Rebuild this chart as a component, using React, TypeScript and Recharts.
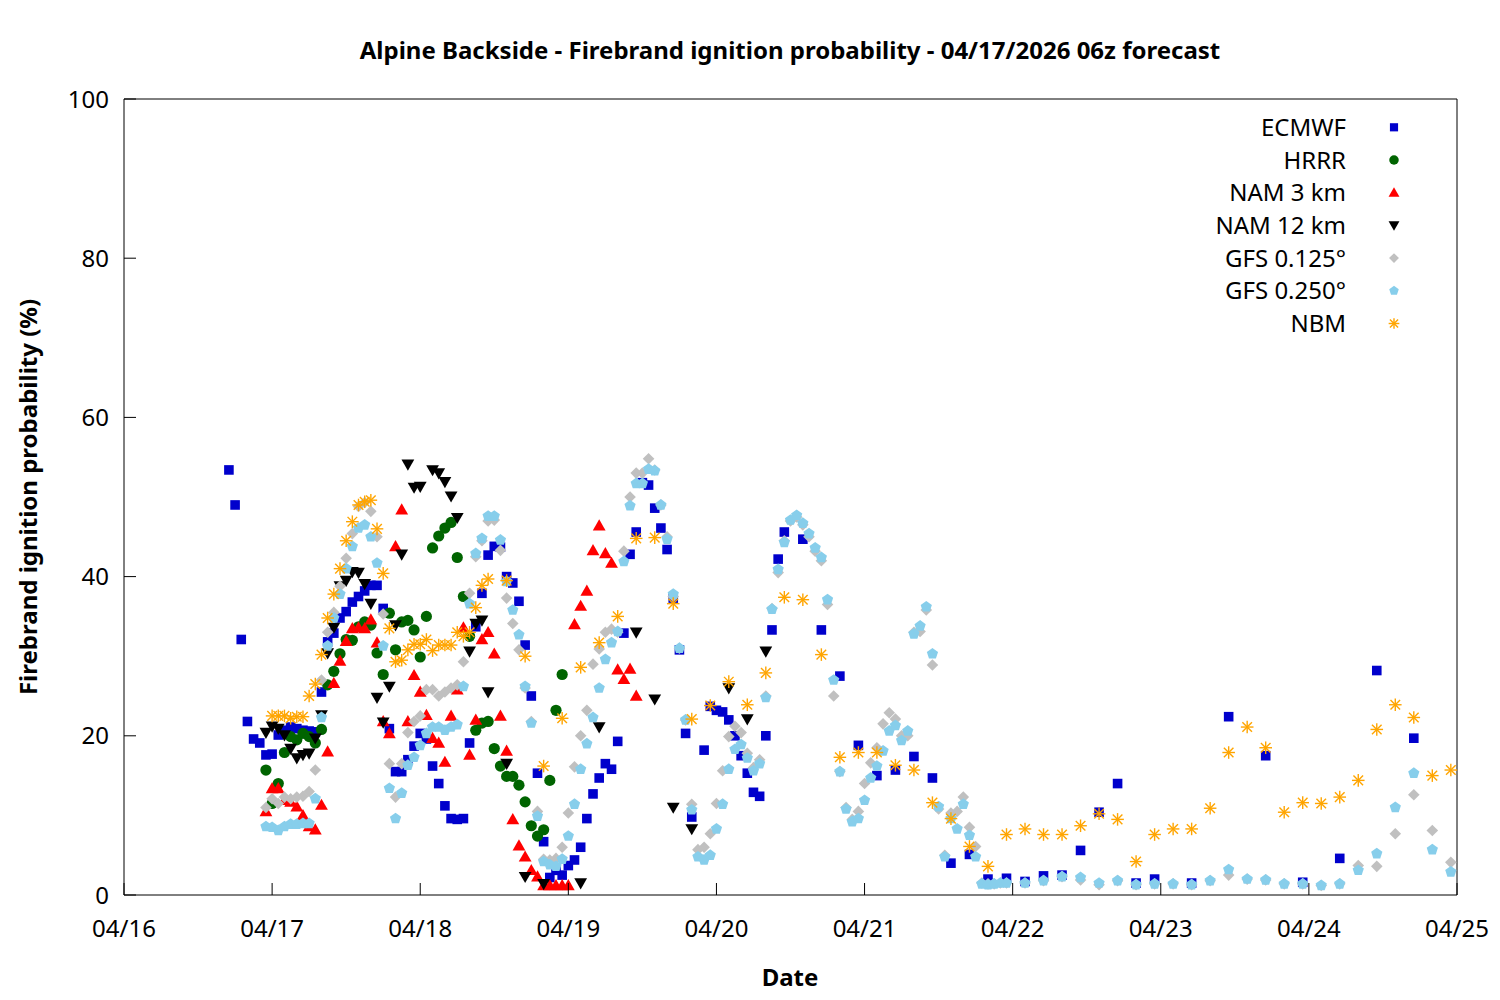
import React from 'react';
import { ScatterChart, Scatter, XAxis, YAxis } from 'recharts';

type P = [number, number];

// hours since 04/16 00:00 (local), probability in %
const dateLabels = ['04/16', '04/17', '04/18', '04/19', '04/20', '04/21', '04/22', '04/23', '04/24', '04/25'];
const xTicks = [0, 24, 48, 72, 96, 120, 144, 168, 192, 216];
const yTicks = [0, 20, 40, 60, 80, 100];

const ecmwf: P[] = [
  [17, 53.4], [18, 49.0], [19, 32.1], [20, 21.8], [21, 19.6], [22, 19.1], [23, 17.6], [24, 17.7], [25, 20.1], [26, 20.7],
  [27, 21.1], [28, 20.9], [29, 20.7], [30, 20.6], [31, 20.5], [32, 25.5], [33, 31.8], [34, 32.9], [35, 34.8], [36, 35.6],
  [37, 36.8], [38, 37.5], [39, 38.2], [40, 38.9], [41, 38.9], [42, 36.0], [43, 20.9], [44, 15.5], [45, 15.5], [46, 17.0],
  [47, 18.7], [48, 20.3], [49, 19.6], [50, 16.2], [51, 14.0], [52, 11.2], [53, 9.6], [54, 9.5], [55, 9.6], [56, 19.1],
  [57, 33.7], [58, 37.9], [59, 42.7], [60, 43.8], [61, 43.7], [62, 40.0], [63, 39.2], [64, 36.9], [65, 31.4], [66, 25.0],
  [67, 15.3], [68, 6.7], [69, 2.2], [70, 3.1], [71, 2.5], [72, 3.7], [73, 4.4], [74, 6.0], [75, 9.6], [76, 12.7],
  [77, 14.7], [78, 16.5], [79, 15.8], [80, 19.3], [81, 32.9], [82, 42.8], [83, 45.6], [84, 51.8], [85, 51.5], [86, 48.6],
  [87, 46.1], [88, 43.4], [89, 37.3], [90, 30.8], [91, 20.3], [92, 9.8], [94, 18.2], [95, 23.7], [96, 23.2], [97, 23.0],
  [98, 22.0], [99, 20.0], [100, 17.5], [101, 15.3], [102, 12.9], [103, 12.4], [104, 20.0], [105, 33.3], [106, 42.2], [107, 45.6],
  [110, 44.7], [113, 33.3], [116, 27.5], [119, 18.8], [122, 15.0], [125, 15.7], [128, 17.4], [131, 14.7], [134, 4.0], [137, 5.1],
  [140, 2.0], [143, 2.1], [146, 1.7], [149, 2.4], [152, 2.5], [155, 5.6], [158, 10.4], [161, 14.0], [164, 1.5], [167, 2.0],
  [173, 1.5], [179, 22.4], [185, 17.5], [191, 1.6], [197, 4.6], [203, 28.2], [209, 19.7],
];

const hrrr: P[] = [
  [23, 15.7], [24, 11.5], [25, 14.0], [26, 17.9], [27, 19.9], [28, 19.5], [29, 20.3], [30, 19.9], [31, 19.1], [32, 20.8],
  [33, 26.4], [34, 28.1], [35, 30.3], [36, 32.1], [37, 32.0], [38, 33.7], [39, 34.3], [40, 33.9], [41, 30.4], [42, 27.7],
  [43, 35.4], [44, 30.8], [45, 34.3], [46, 34.5], [47, 33.3], [48, 29.9], [49, 35.0], [50, 43.6], [51, 45.1], [52, 46.1],
  [53, 46.8], [54, 42.4], [55, 37.5], [56, 32.5], [57, 20.7], [58, 21.6], [59, 21.8], [60, 18.4], [61, 16.2], [62, 14.9],
  [63, 14.9], [64, 13.8], [65, 11.7], [66, 8.7], [67, 7.4], [68, 8.2], [69, 14.4], [70, 23.2], [71, 27.7],
];

const nam3: P[] = [
  [23, 10.5], [24, 13.4], [25, 13.4], [26, 11.9], [27, 11.7], [28, 11.1], [29, 10.0], [30, 8.6], [31, 8.2], [32, 11.3],
  [33, 18.0], [34, 26.6], [35, 29.4], [36, 31.9], [37, 33.5], [38, 33.6], [39, 33.5], [40, 34.6], [41, 31.7], [42, 21.8],
  [43, 20.3], [44, 43.8], [45, 48.4], [46, 21.8], [47, 27.6], [48, 25.5], [49, 22.6], [50, 19.7], [51, 19.1], [52, 16.7],
  [53, 22.5], [54, 25.8], [55, 33.6], [56, 17.6], [57, 22.0], [58, 32.1], [59, 33.0], [60, 30.3], [61, 22.5], [62, 18.1],
  [63, 9.5], [64, 6.2], [65, 4.8], [66, 3.1], [67, 2.3], [68, 1.2], [69, 1.2], [70, 1.2], [71, 1.2], [72, 1.2],
  [73, 34.0], [74, 36.3], [75, 38.2], [76, 43.3], [77, 46.4], [78, 42.9], [79, 41.7], [80, 28.3], [81, 27.1], [82, 28.4],
  [83, 25.0],
];

const nam12: P[] = [
  [23, 20.4], [24, 21.2], [25, 20.9], [26, 20.1], [27, 18.4], [28, 17.2], [29, 17.6], [30, 17.8], [31, 19.7], [32, 22.6],
  [33, 30.4], [34, 33.6], [35, 38.8], [36, 39.5], [37, 40.6], [38, 40.5], [39, 39.1], [40, 36.6], [41, 24.8], [42, 21.7],
  [43, 26.2], [44, 33.9], [45, 42.8], [46, 54.1], [47, 51.2], [48, 51.3], [50, 53.4], [51, 53.0], [52, 51.9], [53, 50.1],
  [54, 47.4], [56, 30.6], [57, 34.1], [58, 34.5], [59, 25.5], [62, 16.5], [65, 2.3], [68, 1.4], [74, 1.5], [77, 21.1],
  [83, 33.0], [86, 24.6], [89, 11.0], [92, 8.3], [98, 26.0], [101, 22.1], [104, 30.6],
];

const gfs125: P[] = [
  [23, 11.0], [24, 12.1], [25, 11.5], [26, 12.3], [27, 12.1], [28, 12.3], [29, 12.4], [30, 13.0], [31, 15.7], [32, 27.0],
  [33, 33.0], [34, 35.5], [35, 38.8], [36, 42.3], [37, 45.4], [38, 48.8], [39, 49.3], [40, 48.2], [41, 45.0], [42, 35.3],
  [43, 16.5], [44, 12.3], [45, 16.5], [46, 20.4], [47, 21.8], [48, 22.5], [49, 25.8], [50, 25.8], [51, 25.0], [52, 25.5],
  [53, 26.0], [54, 26.4], [55, 29.3], [56, 37.9], [57, 42.5], [58, 44.5], [59, 47.0], [60, 47.1], [61, 43.3], [62, 37.3],
  [63, 34.1], [64, 30.8], [65, 26.0], [66, 21.8], [67, 10.5], [68, 4.5], [69, 4.4], [70, 4.6], [71, 6.0], [72, 10.3],
  [73, 16.1], [74, 20.0], [75, 23.2], [76, 29.0], [77, 30.9], [78, 33.0], [79, 33.4], [80, 33.0], [81, 43.2], [82, 50.0],
  [83, 53.0], [84, 53.0], [85, 54.8], [86, 53.4], [87, 49.0], [88, 45.0], [89, 37.5], [90, 31.0], [91, 22.0], [92, 11.4],
  [93, 5.7], [94, 6.0], [95, 7.7], [96, 11.5], [97, 15.6], [98, 19.9], [99, 21.2], [100, 20.4], [101, 17.8], [102, 16.0],
  [103, 17.0], [104, 25.0], [105, 36.0], [106, 40.5], [107, 44.5], [108, 47.0], [109, 47.5], [110, 46.5], [111, 45.0], [112, 43.2],
  [113, 42.0], [114, 36.5], [115, 25.0], [116, 15.5], [117, 11.0], [118, 9.5], [119, 10.5], [120, 14.0], [121, 16.6], [122, 18.5],
  [123, 21.5], [124, 22.9], [125, 22.1], [126, 20.0], [127, 20.0], [128, 33.0], [129, 33.1], [130, 35.8], [131, 28.9], [132, 10.8],
  [133, 5.0], [134, 10.3], [135, 10.5], [136, 12.3], [137, 8.5], [138, 6.1], [139, 1.5], [140, 1.4], [141, 1.4], [142, 1.5],
  [143, 1.5], [146, 1.5], [149, 1.8], [152, 2.3], [155, 1.9], [158, 1.3], [161, 1.8], [164, 1.3], [167, 1.4], [170, 1.4],
  [173, 1.3], [176, 1.8], [179, 2.5], [182, 2.0], [185, 1.9], [188, 1.4], [191, 1.4], [194, 1.2], [197, 1.4], [200, 3.7],
  [203, 3.6], [206, 7.7], [209, 12.6], [212, 8.1], [215, 4.1],
];

const gfs250: P[] = [
  [23, 8.6], [24, 8.5], [25, 8.1], [26, 8.6], [27, 8.9], [28, 8.9], [29, 9.0], [30, 9.0], [31, 12.1], [32, 22.3],
  [33, 31.3], [34, 34.8], [35, 37.8], [36, 41.0], [37, 43.8], [38, 46.1], [39, 46.5], [40, 45.0], [41, 41.7], [42, 31.3],
  [43, 13.4], [44, 9.6], [45, 12.8], [46, 16.3], [47, 17.3], [48, 18.8], [49, 20.3], [50, 21.1], [51, 21.1], [52, 20.7],
  [53, 21.1], [54, 21.4], [55, 26.2], [56, 36.6], [57, 42.9], [58, 44.8], [59, 47.6], [60, 47.6], [61, 44.6], [62, 39.4],
  [63, 35.8], [64, 32.7], [65, 26.2], [66, 21.6], [67, 9.9], [68, 4.2], [69, 3.8], [70, 3.6], [71, 4.5], [72, 7.4],
  [73, 11.4], [74, 15.8], [75, 19.0], [76, 22.3], [77, 26.0], [78, 29.6], [79, 31.7], [80, 33.1], [81, 41.9], [82, 48.9],
  [83, 51.7], [84, 51.7], [85, 53.5], [86, 53.3], [87, 49.0], [88, 44.7], [89, 37.8], [90, 31.0], [91, 22.0], [92, 10.7],
  [93, 4.8], [94, 4.4], [95, 5.0], [96, 8.3], [97, 11.4], [98, 15.8], [99, 18.3], [100, 18.9], [101, 17.2], [102, 15.6],
  [103, 16.5], [104, 24.8], [105, 35.9], [106, 40.9], [107, 44.3], [108, 47.1], [109, 47.7], [110, 46.7], [111, 45.4], [112, 43.6],
  [113, 42.4], [114, 37.1], [115, 27.0], [116, 15.5], [117, 10.8], [118, 9.2], [119, 9.6], [120, 11.9], [121, 14.7], [122, 16.2],
  [123, 18.1], [124, 20.6], [125, 21.3], [126, 19.4], [127, 20.6], [128, 32.8], [129, 33.8], [130, 36.2], [131, 30.3], [132, 11.1],
  [133, 4.8], [134, 9.6], [135, 8.3], [136, 11.4], [137, 7.5], [138, 4.8], [139, 1.4], [140, 1.3], [141, 1.4], [142, 1.5],
  [143, 1.5], [146, 1.5], [149, 1.8], [152, 2.3], [155, 2.2], [158, 1.5], [161, 1.8], [164, 1.3], [167, 1.4], [170, 1.4],
  [173, 1.3], [176, 1.8], [179, 3.2], [182, 2.0], [185, 1.9], [188, 1.4], [191, 1.4], [194, 1.2], [197, 1.4], [200, 3.1],
  [203, 5.2], [206, 11.0], [209, 15.3], [212, 5.7], [215, 2.9],
];

const nbm: P[] = [
  [24, 22.5], [25, 22.5], [26, 22.5], [27, 22.2], [28, 22.4], [29, 22.4], [30, 25.0], [31, 26.5], [32, 30.2], [33, 34.8],
  [34, 37.8], [35, 41.0], [36, 44.5], [37, 46.9], [38, 49.0], [39, 49.4], [40, 49.6], [41, 46.0], [42, 40.4], [43, 33.5],
  [44, 29.3], [45, 29.5], [46, 30.8], [47, 31.5], [48, 31.5], [49, 32.1], [50, 30.7], [51, 31.4], [52, 31.4], [53, 31.4],
  [54, 33.0], [55, 32.5], [56, 33.0], [57, 36.1], [58, 38.9], [59, 39.7], [62, 39.5], [65, 30.0], [68, 16.2], [71, 22.2],
  [74, 28.6], [77, 31.7], [80, 35.0], [83, 44.8], [86, 44.9], [89, 36.6], [92, 22.1], [95, 23.8], [98, 26.8], [101, 23.9],
  [104, 27.9], [107, 37.4], [110, 37.1], [113, 30.2], [116, 17.3], [119, 17.9], [122, 17.9], [125, 16.3], [128, 15.7], [131, 11.6],
  [134, 9.6], [137, 6.1], [140, 3.6], [143, 7.6], [146, 8.3], [149, 7.6], [152, 7.6], [155, 8.7], [158, 10.2], [161, 9.5],
  [164, 4.2], [167, 7.6], [170, 8.3], [173, 8.3], [176, 10.9], [179, 17.9], [182, 21.1], [185, 18.5], [188, 10.4], [191, 11.6],
  [194, 11.5], [197, 12.3], [200, 14.4], [203, 20.8], [206, 23.9], [209, 22.3], [212, 15.0], [215, 15.7],
];

const FONT = "'Noto Sans', 'Open Sans', 'DejaVu Sans', sans-serif";
const W = 1500;
const H = 1000;
const TICK_LEN = 12;
const FS = 24;

type ShapeName = 'square' | 'circle' | 'up' | 'down' | 'diamond' | 'pentagon' | 'star';

function drawShape(kind: ShapeName, cx: number, cy: number, c: string, k = 1) {
  switch (kind) {
    case 'square': {
      const h = 4.8 * k;
      return <rect x={cx - h} y={cy - h} width={2 * h} height={2 * h} fill={c} />;
    }
    case 'circle':
      return <circle cx={cx} cy={cy} r={5.6 * k} fill={c} />;
    case 'up': {
      const a = 6.4 * k;
      return <polygon points={`${cx},${cy - a} ${cx - a},${cy + 0.75 * a} ${cx + a},${cy + 0.75 * a}`} fill={c} />;
    }
    case 'down': {
      const a = 6.4 * k;
      return <polygon points={`${cx},${cy + a} ${cx - a},${cy - 0.75 * a} ${cx + a},${cy - 0.75 * a}`} fill={c} />;
    }
    case 'diamond': {
      const a = 5.8 * k;
      return <polygon points={`${cx},${cy - a} ${cx + a},${cy} ${cx},${cy + a} ${cx - a},${cy}`} fill={c} />;
    }
    case 'pentagon': {
      const r = 5.9 * k;
      const pts = [0, 1, 2, 3, 4]
        .map((i) => {
          const ang = -Math.PI / 2 + (i * 2 * Math.PI) / 5;
          return `${cx + r * Math.cos(ang)},${cy + r * Math.sin(ang)}`;
        })
        .join(' ');
      return <polygon points={pts} fill={c} />;
    }
    case 'star': {
      const s = 6.3 * k;
      const d = 4.8 * k;
      return (
        <g stroke={c} strokeWidth={1.4}>
          <line x1={cx - s} y1={cy} x2={cx + s} y2={cy} />
          <line x1={cx} y1={cy - s} x2={cx} y2={cy + s} />
          <line x1={cx - d} y1={cy - d} x2={cx + d} y2={cy + d} />
          <line x1={cx - d} y1={cy + d} x2={cx + d} y2={cy - d} />
        </g>
      );
    }
  }
  return null;
}

const series: { name: string; data: P[]; color: string; shape: ShapeName }[] = [
  { name: 'ECMWF', data: ecmwf, color: '#0000cc', shape: 'square' },
  { name: 'HRRR', data: hrrr, color: '#006400', shape: 'circle' },
  { name: 'NAM 3 km', data: nam3, color: '#ff0000', shape: 'up' },
  { name: 'NAM 12 km', data: nam12, color: '#000000', shape: 'down' },
  { name: 'GFS 0.125°', data: gfs125, color: '#c0c0c0', shape: 'diamond' },
  { name: 'GFS 0.250°', data: gfs250, color: '#87ceeb', shape: 'pentagon' },
  { name: 'NBM', data: nbm, color: '#ffa500', shape: 'star' },
];

const toRows = (a: P[]) => a.map(([h, v]) => ({ h, v }));

const BottomTick = (p: any) => (
  <g>
    <line x1={p.x} x2={p.x} y1={p.y} y2={p.y - TICK_LEN} stroke="#000" strokeWidth={1} />
    <text x={p.x} y={p.y + 42} textAnchor="middle" fontSize={FS} fontFamily={FONT} fill="#000">
      {dateLabels[Math.round(p.payload.value / 24)]}
    </text>
  </g>
);

const TopTick = (p: any) => (
  <line x1={p.x} x2={p.x} y1={p.y} y2={p.y + TICK_LEN} stroke="#000" strokeWidth={1} />
);

const LeftTick = (p: any) => (
  <g>
    <line x1={p.x} x2={p.x + TICK_LEN} y1={p.y} y2={p.y} stroke="#000" strokeWidth={1} />
    <text x={p.x - 15} y={p.y + 8.5} textAnchor="end" fontSize={FS} fontFamily={FONT} fill="#000">
      {p.payload.value}
    </text>
  </g>
);

const RightTick = (p: any) => (
  <line x1={p.x} x2={p.x - TICK_LEN} y1={p.y} y2={p.y} stroke="#000" strokeWidth={1} />
);

export default function App() {
  return (
    <div style={{ position: 'absolute', left: 0, top: 0, width: W, height: H, background: '#fff' }}>
      <ScatterChart width={W} height={H} margin={{ top: 0, right: 0, bottom: 0, left: 0 }}>
        <XAxis
          xAxisId="b"
          type="number"
          dataKey="h"
          domain={[0, 216]}
          ticks={xTicks}
          interval={0}
          height={105}
          orientation="bottom"
          tickSize={0}
          tickMargin={0}
          tickLine={false}
          axisLine={{ stroke: '#000', strokeWidth: 1 }}
          tick={BottomTick}
        />
        <XAxis
          xAxisId="t"
          type="number"
          domain={[0, 216]}
          ticks={xTicks}
          interval={0}
          height={99}
          orientation="top"
          tickSize={0}
          tickMargin={0}
          tickLine={false}
          axisLine={{ stroke: '#000', strokeWidth: 1 }}
          tick={TopTick}
        />
        <YAxis
          yAxisId="l"
          type="number"
          dataKey="v"
          domain={[0, 100]}
          ticks={yTicks}
          interval={0}
          width={124}
          orientation="left"
          tickSize={0}
          tickMargin={0}
          tickLine={false}
          axisLine={{ stroke: '#000', strokeWidth: 1 }}
          tick={LeftTick}
        />
        <YAxis
          yAxisId="r"
          type="number"
          domain={[0, 100]}
          ticks={yTicks}
          interval={0}
          width={43}
          orientation="right"
          tickSize={0}
          tickMargin={0}
          tickLine={false}
          axisLine={{ stroke: '#000', strokeWidth: 1 }}
          tick={RightTick}
        />
        {series.map((s) => (
          <Scatter
            key={s.name}
            name={s.name}
            xAxisId="b"
            yAxisId="l"
            data={toRows(s.data)}
            fill={s.color}
            isAnimationActive={false}
            shape={(props: any) => drawShape(s.shape, props.cx, props.cy, s.color)}
          />
        ))}
      </ScatterChart>
      <svg
        width={W}
        height={H}
        style={{ position: 'absolute', left: 0, top: 0, pointerEvents: 'none' }}
      >
        <text x={790} y={58.5} textAnchor="middle" fontSize={FS} fontWeight="bold" fontFamily={FONT} fill="#000">
          Alpine Backside - Firebrand ignition probability - 04/17/2026 06z forecast
        </text>
        <text x={790} y={985.5} textAnchor="middle" fontSize={FS} fontWeight="bold" fontFamily={FONT} fill="#000">
          Date
        </text>
        <text
          transform="translate(37,497) rotate(-90)"
          textAnchor="middle"
          fontSize={FS}
          fontWeight="bold"
          fontFamily={FONT}
          fill="#000"
        >
          Firebrand ignition probability (%)
        </text>
        {series.map((s, i) => {
          const cy = 127.3 + i * 32.7;
          return (
            <g key={s.name}>
              <text x={1346} y={cy + 8.5} textAnchor="end" fontSize={FS} fontFamily={FONT} fill="#000">
                {s.name}
              </text>
              {drawShape(s.shape, 1394, cy, s.color, 0.85)}
            </g>
          );
        })}
      </svg>
    </div>
  );
}
